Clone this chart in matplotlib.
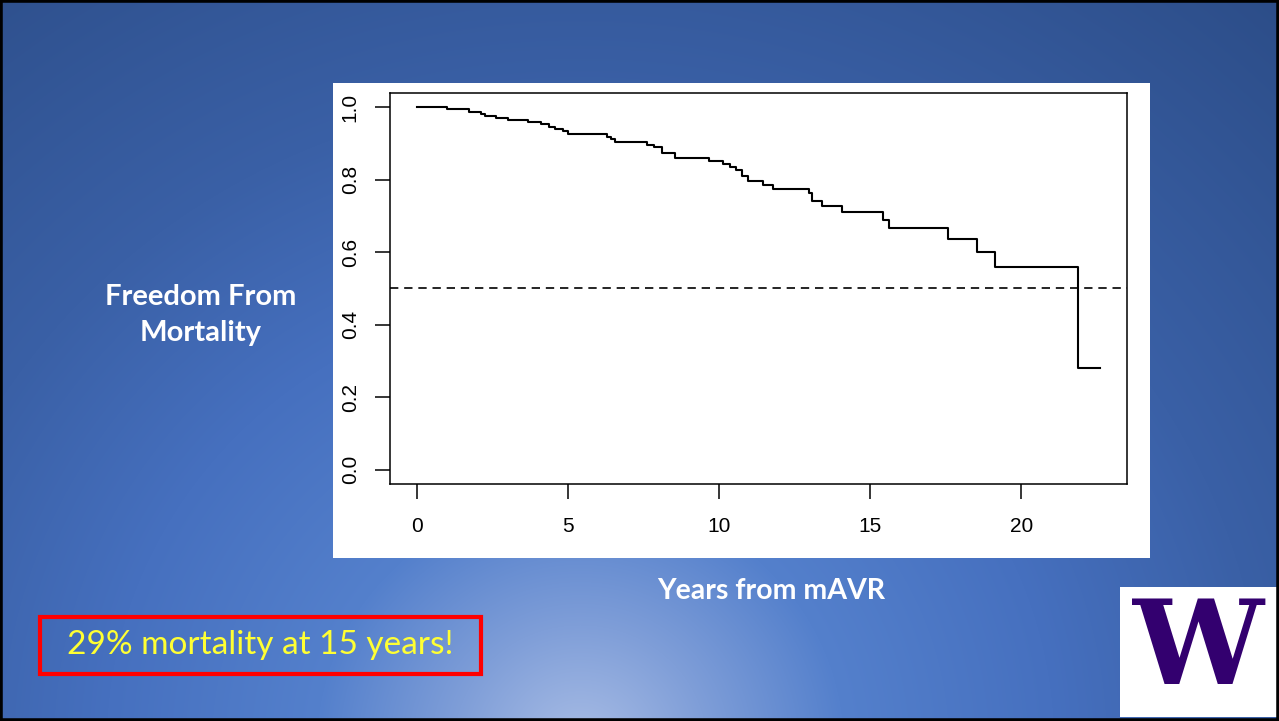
import numpy as np
import matplotlib
matplotlib.use("Agg")
import matplotlib.pyplot as plt
from matplotlib.patches import Rectangle
from matplotlib.colors import to_rgb

# Datos de la curva de supervivencia
years = [0, 1.0, 1.72, 2.1, 2.25, 2.6, 3.02, 3.67, 4.11, 4.38, 4.55, 4.83, 4.99,
         6.27, 6.42, 6.56, 7.61, 7.83, 8.1, 8.55, 9.67, 10.14, 10.34, 10.55,
         10.75, 10.95, 11.46, 11.79, 12.98, 13.08, 13.39, 14.05, 15.43, 15.62,
         17.58, 18.53, 19.12, 21.89, 22.59]
survival = [1.0, 0.995, 0.986, 0.981, 0.974, 0.969, 0.963, 0.958, 0.952, 0.945,
            0.939, 0.933, 0.925, 0.917, 0.911, 0.903, 0.896, 0.889, 0.873, 0.859,
            0.852, 0.843, 0.834, 0.826, 0.81, 0.797, 0.785, 0.774, 0.762, 0.741,
            0.727, 0.71, 0.689, 0.666, 0.636, 0.6, 0.56, 0.28, 0.28]
median_line = 0.5
xticks = [0, 5, 10, 15, 20]
yticks = [0.0, 0.2, 0.4, 0.6, 0.8, 1.0]
ylabels = ["0.0", "0.2", "0.4", "0.6", "0.8", "1.0"]

W, H = 1279, 721
fig = plt.figure(figsize=(W / 100, H / 100), dpi=100)


def fx(px):
    return px / W


def fy(py):
    return 1 - py / H


# Fondo con degradado radial azul
bg = fig.add_axes([0, 0, 1, 1])
bg.set_zorder(-5)
yy, xx = np.mgrid[0:H, 0:W]
d = np.sqrt(((xx - 580) * 0.95) ** 2 + (yy - 745) ** 2)
stops_d = [0, 120, 250, 450, 650, 1000]
stops_c = ["#a9bde5", "#7f9ed8", "#5480cc", "#4670bf", "#3a60a6", "#2c4d88"]
rgb = np.zeros((H, W, 3))
for i in range(3):
    rgb[..., i] = np.interp(d, stops_d, [to_rgb(c)[i] for c in stops_c])
bg.imshow(rgb, aspect="auto", extent=[0, 1, 0, 1])
bg.set_xlim(0, 1)
bg.set_ylim(0, 1)
bg.axis("off")

# Borde negro de la diapositiva
fig.patches.append(Rectangle((0, 0), 1, 1, transform=fig.transFigure,
                             fill=False, edgecolor="black", lw=4, zorder=10))

# Panel blanco del grafico
fig.patches.append(Rectangle((fx(333), fy(558)), fx(1150 - 333), (558 - 83) / H,
                             transform=fig.transFigure, facecolor="white",
                             edgecolor="none", zorder=1))

# Grafico principal
ax = fig.add_axes([fx(390), fy(484), fx(1127 - 390), (484 - 92.5) / H])
ax.set_zorder(3)
ax.set_facecolor("white")
ax.step(years, survival, where="post", color="black", lw=1.5)
ax.axhline(median_line, color="black", lw=1.2, ls=(0, (5, 3.5)))
ax.set_xlim(-0.9, 23.5)
ax.set_ylim(-0.04, 1.04)
ax.set_xticks(xticks)
ax.set_yticks(yticks)
ax.set_yticklabels(ylabels, rotation=90, va="center")
for s in ax.spines.values():
    s.set_linewidth(1.1)
    s.set_color("black")
ax.tick_params(axis="both", direction="out", length=10.8, width=1.1,
               labelsize=15, color="black", labelcolor="black")
ax.tick_params(axis="x", pad=13)
ax.tick_params(axis="y", pad=11)
for lab in ax.get_xticklabels() + ax.get_yticklabels():
    lab.set_fontfamily("Liberation Sans")

# Textos de la diapositiva
fig.text(fx(201), fy(315), "Freedom From\nMortality", color="white",
         fontsize=21, fontweight="bold", family="Lato", ha="center",
         va="center", linespacing=1.45)
fig.text(fx(771), fy(591), "Years from mAVR", color="white", fontsize=20.5,
         fontweight="bold", family="Lato", ha="center", va="center")

# Caja roja con el mensaje
fig.patches.append(Rectangle((fx(40), fy(674)), fx(481 - 40), (674 - 617) / H,
                             transform=fig.transFigure, fill=False,
                             edgecolor="#ff0000", lw=3, zorder=5))
fig.text(fx(260), fy(645), "29% mortality at 15 years!", color="#ffff33",
         fontsize=24, family="Lato", ha="center", va="center", zorder=6)

# Logo UW
fig.patches.append(Rectangle((fx(1120), fy(717)), fx(1279 - 1120), (717 - 587) / H,
                             transform=fig.transFigure, facecolor="white",
                             edgecolor="none", zorder=5))
fig.text(fx(1199), fy(652), "W", color="#33006f", fontsize=84,
         fontweight="bold", family="DejaVu Serif", ha="center", va="center",
         zorder=6)

fig.savefig("out.png", dpi=100)
